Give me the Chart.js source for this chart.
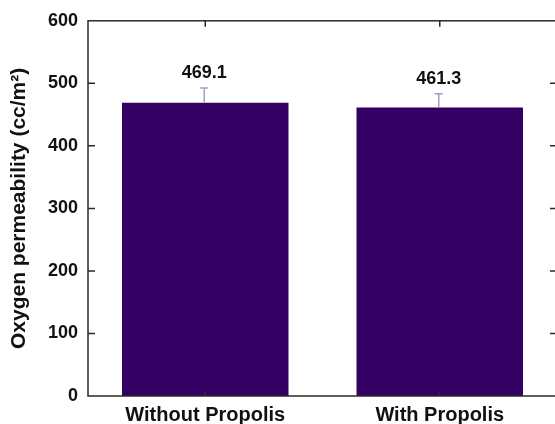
<!DOCTYPE html>
<html>
<head>
<meta charset="utf-8">
<script src="https://cdn.jsdelivr.net/npm/chart.js@4"></script>
<style>
  html, body { margin: 0; padding: 0; background: #fff; overflow: hidden; }
  #wrap { width: 560px; height: 424px; position: relative; }
</style>
</head>
<body>
<div id="wrap"><canvas id="graphe"></canvas></div>
<script>
// data
var categories = ['Without Propolis', 'With Propolis'];
var values = [469.1, 461.3];
var errors = [23.5, 22];
var labelsText = ['469.1', '461.3'];
var yMin = 0, yMax = 600, yStep = 100;

var barColor = '#340063';
var errColor = '#a99ac9';
var axisColor = '#2a2a2a';
var fontFamily = '"Liberation Sans", Arial, sans-serif';

//draw the box around the plot with inward ticks
var framePlugin = {
    id: 'frame',
    afterDraw: function(chart) {
        var ctx = chart.ctx;
        var a = chart.chartArea;
        var x = chart.scales.x, y = chart.scales.y;
        ctx.save();
        ctx.strokeStyle = axisColor;
        ctx.lineWidth = 1.5;
        ctx.strokeRect(a.left, a.top, a.right - a.left, a.bottom - a.top);
        ctx.beginPath();
        y.ticks.forEach(function(t) {
            var py = y.getPixelForValue(t.value);
            if (t.value == yMin || t.value == yMax) return;
            ctx.moveTo(a.left, py); ctx.lineTo(a.left + 7, py);
            ctx.moveTo(a.right, py); ctx.lineTo(a.right - 7, py);
        });
        for (var i = 0; i < categories.length; i++) {
            var px = x.getPixelForValue(i);
            ctx.moveTo(px, a.top); ctx.lineTo(px, a.top + 6);
            ctx.moveTo(px, a.bottom); ctx.lineTo(px, a.bottom - 5);
        }
        ctx.stroke();
        ctx.restore();
    }
};

//error bars and value labels
var errorPlugin = {
    id: 'errbars',
    afterDatasetsDraw: function(chart) {
        var ctx = chart.ctx;
        var x = chart.scales.x, y = chart.scales.y;
        ctx.save();
        for (var i = 0; i < values.length; i++) {
            var px = x.getPixelForValue(i) - 1;
            var pTop = y.getPixelForValue(values[i] + errors[i]);
            var pBar = y.getPixelForValue(values[i]);
            ctx.strokeStyle = errColor;
            ctx.lineWidth = 1.5;
            ctx.beginPath();
            ctx.moveTo(px, pBar); ctx.lineTo(px, pTop);
            ctx.moveTo(px - 4, pTop); ctx.lineTo(px + 4, pTop);
            ctx.stroke();
            ctx.fillStyle = '#111';
            ctx.font = 'bold 18px ' + fontFamily;
            ctx.textAlign = 'center';
            ctx.textBaseline = 'bottom';
            ctx.fillText(labelsText[i], px, pTop - 6);
        }
        ctx.restore();
    }
};

var ctx = document.getElementById('graphe').getContext('2d');
var myChart = new Chart(ctx, {
    type: 'bar',
    data: {
        labels: categories,
        datasets: [{
            data: values,
            backgroundColor: barColor,
            borderWidth: 0,
            barPercentage: 0.71,
            categoryPercentage: 1
        }]
    },
    options: {
        responsive: true,
        maintainAspectRatio: false,
        animation: false,
        layout: { padding: { top: 16, right: 3, left: 0, bottom: 0 } },
        plugins: { legend: { display: false }, tooltip: { enabled: false } },
        scales: {
            x: {
                grid: { display: false, drawTicks: false },
                border: { display: false },
                ticks: {
                    color: '#111',
                    padding: 7,
                    font: { family: fontFamily, size: 20, weight: 'bold' }
                },
                afterFit: function(scale) { scale.height = 28; }
            },
            y: {
                min: yMin,
                max: yMax,
                grid: { display: false, drawTicks: false },
                border: { display: false },
                ticks: {
                    stepSize: yStep,
                    color: '#111',
                    padding: 10,
                    font: { family: fontFamily, size: 18, weight: 'bold' }
                },
                title: {
                    display: true,
                    text: 'Oxygen permeability (cc/m²)',
                    align: 'center',
                    color: '#111',
                    padding: { top: 7, bottom: 0 },
                    font: { family: fontFamily, size: 21, weight: 'bold' }
                },
                afterFit: function(scale) { scale.width = 88; }
            }
        }
    },
    plugins: [framePlugin, errorPlugin]
});
</script>
</body>
</html>
